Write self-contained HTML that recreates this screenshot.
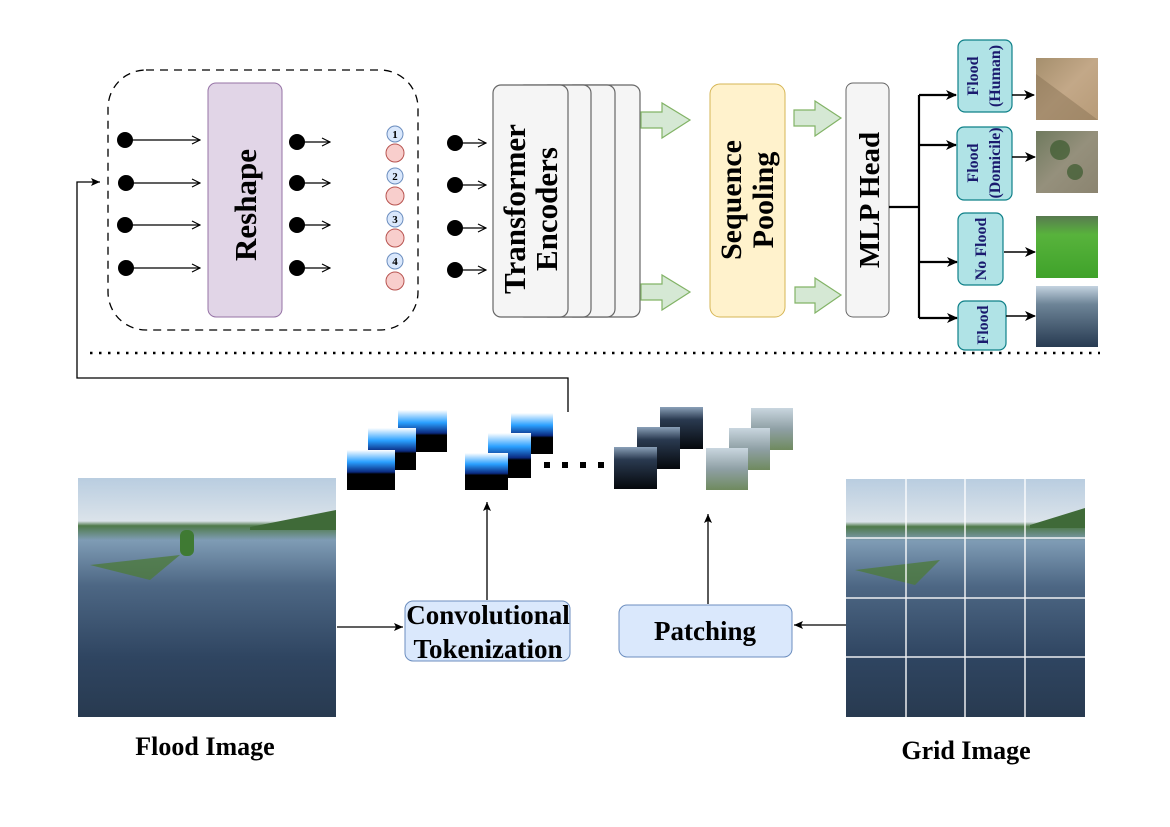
<!DOCTYPE html>
<html><head><meta charset="utf-8"><style>
html,body{margin:0;padding:0;background:#fff}
svg{display:block}
text{font-family:"Liberation Serif",serif;font-weight:bold}
</style></head><body>
<svg width="1170" height="827" viewBox="0 0 1170 827" xmlns="http://www.w3.org/2000/svg">
<defs>
<marker id="oa" markerWidth="10" markerHeight="10" refX="9" refY="5" orient="auto" markerUnits="userSpaceOnUse"><path d="M1,1 L9,5 L1,9" fill="none" stroke="#000" stroke-width="1.2"/></marker>
<marker id="fa" markerWidth="12" markerHeight="12" refX="10" refY="6" orient="auto" markerUnits="userSpaceOnUse"><path d="M0,1 L11,6 L0,11 L3,6Z" fill="#000"/></marker>
<marker id="sa" markerWidth="10" markerHeight="10" refX="9" refY="5" orient="auto" markerUnits="userSpaceOnUse"><path d="M0,1 L9,5 L0,9 L2,5Z" fill="#000"/></marker>
<linearGradient id="flood" x1="0" y1="0" x2="0" y2="1">
<stop offset="0" stop-color="#b9cde0"/><stop offset="0.18" stop-color="#dbe3ea"/><stop offset="0.2" stop-color="#4f7a4a"/><stop offset="0.26" stop-color="#7f9cb5"/><stop offset="0.45" stop-color="#4d6784"/><stop offset="0.75" stop-color="#2f4561"/><stop offset="1" stop-color="#283a50"/></linearGradient>
<linearGradient id="human" x1="0" y1="0" x2="1" y2="1"><stop offset="0" stop-color="#a58f6d"/><stop offset="0.5" stop-color="#c3a888"/><stop offset="1" stop-color="#b79b78"/></linearGradient>
<linearGradient id="dom" x1="0" y1="0" x2="1" y2="1"><stop offset="0" stop-color="#6f7a5e"/><stop offset="0.5" stop-color="#95907c"/><stop offset="1" stop-color="#8b8470"/></linearGradient>
<linearGradient id="green" x1="0" y1="0" x2="0" y2="1"><stop offset="0" stop-color="#587a50"/><stop offset="0.3" stop-color="#58b33c"/><stop offset="1" stop-color="#3fa22a"/></linearGradient>
<linearGradient id="fl2" x1="0" y1="0" x2="0" y2="1"><stop offset="0" stop-color="#c4d3e0"/><stop offset="0.3" stop-color="#6d8497"/><stop offset="1" stop-color="#283b52"/></linearGradient>
<linearGradient id="cv" x1="0" y1="0" x2="0" y2="1"><stop offset="0" stop-color="#fff"/><stop offset="0.3" stop-color="#2aa0ff"/><stop offset="0.55" stop-color="#0a2a80"/><stop offset="0.6" stop-color="#000"/><stop offset="1" stop-color="#000"/></linearGradient>
<linearGradient id="dk" x1="0" y1="0" x2="0" y2="1"><stop offset="0" stop-color="#8aa0b8"/><stop offset="0.3" stop-color="#2a3a50"/><stop offset="1" stop-color="#05080c"/></linearGradient>
<linearGradient id="lt" x1="0" y1="0" x2="0" y2="1"><stop offset="0" stop-color="#c9d6df"/><stop offset="0.5" stop-color="#8fa0a5"/><stop offset="1" stop-color="#6f8a5e"/></linearGradient>
</defs>

<rect x="108" y="70" width="310" height="260" rx="38" fill="none" stroke="#000" stroke-width="1.3" stroke-dasharray="8,6"/>
<rect x="208" y="83" width="74" height="234" rx="8" fill="#e1d5e7" stroke="#9673a6"/>
<text transform="translate(256,205) rotate(-90)" text-anchor="middle" font-size="31">Reshape</text>
<g stroke="#000" stroke-width="1.3" marker-end="url(#oa)">
<line x1="125" y1="140" x2="200" y2="140"/><line x1="125" y1="183" x2="200" y2="183"/><line x1="125" y1="225" x2="200" y2="225"/><line x1="125" y1="268" x2="200" y2="268"/>
<line x1="298" y1="142" x2="330" y2="142"/><line x1="298" y1="183" x2="330" y2="183"/><line x1="298" y1="225" x2="330" y2="225"/><line x1="298" y1="268" x2="330" y2="268"/>
<line x1="455" y1="143" x2="486" y2="143"/><line x1="455" y1="185" x2="486" y2="185"/><line x1="455" y1="228" x2="486" y2="228"/><line x1="455" y1="270" x2="486" y2="270"/>
</g>
<g fill="#000">
<circle cx="125" cy="140" r="8"/><circle cx="126" cy="183" r="8"/><circle cx="125" cy="225" r="8"/><circle cx="126" cy="268" r="8"/>
<circle cx="297" cy="142" r="8"/><circle cx="297" cy="183" r="8"/><circle cx="297" cy="225" r="8"/><circle cx="297" cy="268" r="8"/>
<circle cx="455" cy="143" r="8"/><circle cx="455" cy="185" r="8"/><circle cx="455" cy="228" r="8"/><circle cx="455" cy="270" r="8"/>
</g>
<g stroke-width="1">
<circle cx="395" cy="153" r="9" fill="#f8cecc" stroke="#b85450"/><circle cx="395" cy="196" r="9" fill="#f8cecc" stroke="#b85450"/><circle cx="395" cy="238" r="9" fill="#f8cecc" stroke="#b85450"/><circle cx="395" cy="281" r="9" fill="#f8cecc" stroke="#b85450"/>
<circle cx="395" cy="134" r="8" fill="#dae8fc" stroke="#6c8ebf"/><circle cx="395" cy="176" r="8" fill="#dae8fc" stroke="#6c8ebf"/><circle cx="395" cy="219" r="8" fill="#dae8fc" stroke="#6c8ebf"/><circle cx="395" cy="261" r="8" fill="#dae8fc" stroke="#6c8ebf"/>
</g>
<g font-size="11" text-anchor="middle"><text x="395" y="138">1</text><text x="395" y="180">2</text><text x="395" y="223">3</text><text x="395" y="265">4</text></g>

<g fill="#f5f5f5" stroke="#666" stroke-width="1.2">
<rect x="565" y="85" width="75" height="232" rx="8"/>
<rect x="540" y="85" width="75" height="232" rx="8"/>
<rect x="516" y="85" width="75" height="232" rx="8"/>
<rect x="493" y="85" width="75" height="232" rx="8"/>
</g>
<text transform="translate(525,209) rotate(-90)" text-anchor="middle" font-size="31">Transformer</text>
<text transform="translate(557,209) rotate(-90)" text-anchor="middle" font-size="31">Encoders</text>

<g fill="#d5e8d4" stroke="#82b366" stroke-width="1.2">
<path d="M641,112 L662,112 L662,103 L690,120 L662,138 L662,128 L641,128Z"/>
<path d="M641,284 L662,284 L662,275 L690,292 L662,310 L662,300 L641,300Z"/>
<path d="M794,110 L815,110 L815,101 L841,118 L815,136 L815,126 L794,126Z"/>
<path d="M795,287 L815,287 L815,278 L841,295 L815,313 L815,303 L795,303Z"/>
</g>
<rect x="710" y="84" width="75" height="233" rx="10" fill="#fff2cc" stroke="#d6b656"/>
<text transform="translate(741,200) rotate(-90)" text-anchor="middle" font-size="30">Sequence</text>
<text transform="translate(773,200) rotate(-90)" text-anchor="middle" font-size="30">Pooling</text>
<rect x="846" y="83" width="43" height="234" rx="7" fill="#f5f5f5" stroke="#666"/>
<text transform="translate(879,200) rotate(-90)" text-anchor="middle" font-size="29">MLP Head</text>

<g stroke="#000" stroke-width="2.2" fill="none">
<path d="M889,207 L919,207"/><path d="M919,95 L919,318"/>
<line x1="919" y1="95" x2="956" y2="95" marker-end="url(#fa)"/>
<line x1="919" y1="145" x2="956" y2="145" marker-end="url(#fa)"/>
<line x1="919" y1="262" x2="957" y2="262" marker-end="url(#fa)"/>
<line x1="919" y1="318" x2="957" y2="318" marker-end="url(#fa)"/>
</g>
<g fill="#b0e3e6" stroke="#0e8088" stroke-width="1.2">
<rect x="958" y="40" width="54" height="72" rx="7"/>
<rect x="957" y="127" width="55" height="73" rx="7"/>
<rect x="958" y="213" width="45" height="72" rx="7"/>
<rect x="958" y="301" width="48" height="49" rx="7"/>
</g>
<g fill="#1a1a6e" font-size="16" text-anchor="middle">
<text transform="translate(978,76) rotate(-90)">Flood</text>
<text transform="translate(1000,76) rotate(-90)">(Human)</text>
<text transform="translate(978,163) rotate(-90)">Flood</text>
<text transform="translate(1000,163) rotate(-90)">(Domicile)</text>
<text transform="translate(986,249) rotate(-90)">No Flood</text>
<text transform="translate(988,325) rotate(-90)">Flood</text>
</g>
<g stroke="#000" stroke-width="1.4">
<line x1="1012" y1="95" x2="1034" y2="95" marker-end="url(#fa)"/>
<line x1="1012" y1="157" x2="1035" y2="157" marker-end="url(#fa)"/>
<line x1="1004" y1="252" x2="1035" y2="252" marker-end="url(#fa)"/>
<line x1="1006" y1="316" x2="1035" y2="316" marker-end="url(#fa)"/>
</g>
<rect x="1036" y="58" width="62" height="62" fill="url(#human)"/>
<path d="M1036,74 L1098,120 L1036,120Z" fill="#8a7355" opacity="0.5"/>
<rect x="1036" y="131" width="62" height="62" fill="url(#dom)"/>
<circle cx="1060" cy="150" r="10" fill="#3b5a2e" opacity="0.7"/><circle cx="1075" cy="172" r="8" fill="#3b5a2e" opacity="0.7"/>
<rect x="1036" y="216" width="62" height="62" fill="url(#green)"/>
<rect x="1036" y="286" width="62" height="61" fill="url(#fl2)"/>

<line x1="90" y1="353" x2="1100" y2="353" stroke="#000" stroke-width="2.5" stroke-dasharray="2.5,6.5"/>

<path d="M568,412 L568,378 L77,378 L77,182 L100,182" fill="none" stroke="#000" stroke-width="1.3" marker-end="url(#sa)"/>

<rect x="398" y="410" width="49" height="42" fill="url(#cv)"/>
<rect x="368" y="428" width="48" height="42" fill="url(#cv)"/>
<rect x="347" y="450" width="48" height="40" fill="url(#cv)"/>
<rect x="511" y="413" width="42" height="41" fill="url(#cv)"/>
<rect x="488" y="433" width="43" height="45" fill="url(#cv)"/>
<rect x="465" y="453" width="43" height="37" fill="url(#cv)"/>
<g fill="#000"><rect x="544" y="462" width="6" height="6"/><rect x="562" y="462" width="6" height="6"/><rect x="580" y="462" width="6" height="6"/><rect x="598" y="462" width="6" height="6"/></g>
<rect x="660" y="407" width="43" height="42" fill="url(#dk)"/>
<rect x="637" y="427" width="43" height="42" fill="url(#dk)"/>
<rect x="614" y="447" width="43" height="42" fill="url(#dk)"/>
<rect x="751" y="408" width="42" height="42" fill="url(#lt)"/>
<rect x="729" y="428" width="41" height="42" fill="url(#lt)"/>
<rect x="706" y="448" width="42" height="42" fill="url(#lt)"/>

<rect x="78" y="478" width="258" height="239" fill="url(#flood)"/>
<path d="M250,527 L336,510 L336,530 L250,530Z" fill="#3f6a38"/>
<path d="M90,565 L180,555 L150,580 Z" fill="#4d7a3d" opacity="0.8"/>
<rect x="180" y="530" width="14" height="26" rx="6" fill="#3f7a33"/>
<text x="205" y="755" text-anchor="middle" font-size="26">Flood Image</text>

<rect x="846" y="479" width="239" height="238" fill="url(#flood)"/>
<path d="M1030,525 L1085,508 L1085,528 L1030,528Z" fill="#3f6a38"/>
<path d="M855,570 L940,560 L915,585 Z" fill="#4d7a3d" opacity="0.8"/>
<g stroke="#fff" stroke-width="1.5" opacity="0.9">
<line x1="906" y1="479" x2="906" y2="717"/><line x1="965" y1="479" x2="965" y2="717"/><line x1="1025" y1="479" x2="1025" y2="717"/>
<line x1="846" y1="538" x2="1085" y2="538"/><line x1="846" y1="598" x2="1085" y2="598"/><line x1="846" y1="657" x2="1085" y2="657"/>
</g>
<text x="966" y="759" text-anchor="middle" font-size="26">Grid Image</text>

<rect x="405" y="601" width="165" height="60" rx="8" fill="#dae8fc" stroke="#6c8ebf"/>
<text x="488" y="624" text-anchor="middle" font-size="27">Convolutional</text>
<text x="488" y="658" text-anchor="middle" font-size="27">Tokenization</text>
<rect x="619" y="605" width="173" height="52" rx="8" fill="#dae8fc" stroke="#6c8ebf"/>
<text x="705" y="640" text-anchor="middle" font-size="27">Patching</text>
<g stroke="#000" stroke-width="1.3">
<line x1="337" y1="627" x2="403" y2="627" marker-end="url(#sa)"/>
<line x1="487" y1="600" x2="487" y2="502" marker-end="url(#sa)"/>
<line x1="708" y1="604" x2="708" y2="514" marker-end="url(#sa)"/>
<line x1="846" y1="625" x2="794" y2="625" marker-end="url(#sa)"/>
</g>
</svg>
</body></html>
